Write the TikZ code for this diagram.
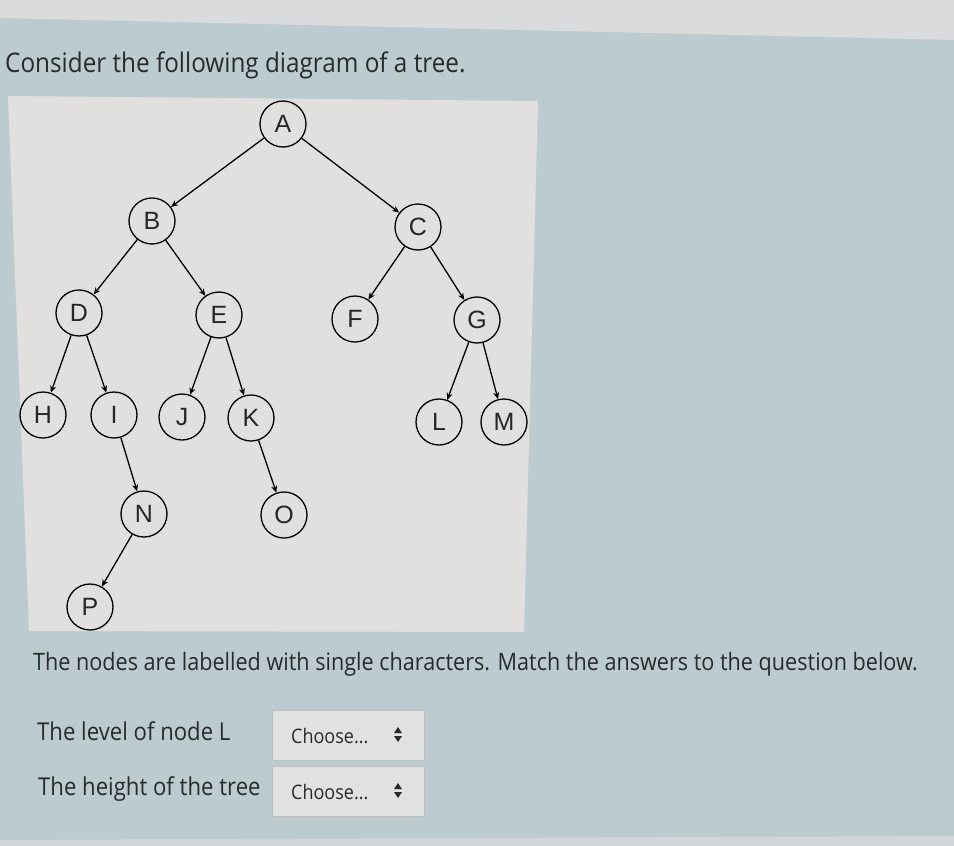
\documentclass[tikz,border=0pt]{standalone}
\usepackage{fontspec}
\setmainfont{Liberation Sans}
\newfontfamily\screenfont[FakeStretch=0.9]{Open Sans}
\usetikzlibrary{arrows.meta}
\definecolor{screenbg}{RGB}{188,203,207}
\definecolor{topband}{RGB}{218,219,220}
\definecolor{panelbg}{RGB}{226,223,223}
\definecolor{boxbg}{RGB}{224,225,225}
\definecolor{ink}{RGB}{40,42,44}
\tikzset{
	treenode/.style = {draw, circle, line width=1.3pt, minimum size=46pt, inner sep=0pt,
		font=\fontsize{25}{25}\selectfont, text=black!85},
	edge/.style = {line width=1.3pt, -{Stealth[length=7pt, width=6pt]}},
	qtext/.style = {anchor=base west, text=ink, inner sep=0pt},
	choosebox/.style = {draw=black!25, fill=boxbg, line width=1pt, minimum width=152pt,
		minimum height=50pt, inner sep=0pt}
}

\begin{document}
\begin{tikzpicture}[x=1pt, y=-1pt]
		\useasboundingbox (0,0) rectangle (954,846);
		\fill [screenbg] (0,0) rectangle (954,846);
		\fill [topband] (0,0) -- (954,0) -- (954,40) -- (0,18) -- cycle;
		\fill [topband!70!screenbg] (0,840) -- (954,836) -- (954,846) -- (0,846) -- cycle;
		
		\node [qtext, font=\screenfont\fontsize{27}{32}\selectfont] (title) at (5,72)
			{Consider the following diagram of a tree.};
		
		% the picture of the tree
		\fill [panelbg] (8,96) -- (538,101) -- (524,632) -- (29,631) -- cycle;
		
		\node [treenode] (A) at (283,124) {A};
		\node [treenode] (B) at (152,221) {B};
		\node [treenode] (C) at (418,227) {C};
		\node [treenode] (D) at (79,313) {D};
		\node [treenode] (E) at (219,315) {E};
		\node [treenode] (F) at (355,319) {F};
		\node [treenode] (G) at (477,320) {G};
		\node [treenode] (H) at (43,415) {H};
		\node [treenode] (I) at (114,415) {I};
		\node [treenode] (J) at (182,417) {J};
		\node [treenode] (K) at (251,418) {K};
		\node [treenode] (L) at (439,422) {L};
		\node [treenode] (M) at (504,422) {M};
		\node [treenode] (N) at (144,514) {N};
		\node [treenode] (O) at (284,515) {O};
		\node [treenode] (P) at (90,607) {P};
		
		\foreach \p/\c in {A/B, A/C, B/D, B/E, C/F, C/G, D/H, D/I, E/J, E/K,
				G/L, G/M, I/N, K/O, N/P}
			\draw [edge] (\p) -- (\c);
		
		% question and answers
		\node [qtext, font=\screenfont\fontsize{24}{28}\selectfont] (note) at (33,670)
			{The nodes are labelled with single characters. Match the answers to the question below.};
		
		\node [qtext, font=\screenfont\fontsize{24.6}{28}\selectfont] (q1) at (37,740) {The level of node L};
		\node [qtext, font=\screenfont\fontsize{24.6}{28}\selectfont] (q2) at (38,795) {The height of the tree};
		
		\foreach \n/\y in {1/735, 2/791} {
			\node [choosebox] (box\n) at (348,\y) {};
			\node [qtext, font=\screenfont\fontsize{20}{24}\selectfont] (ch\n) at (291,\y+8) {Choose...};
			\fill [ink] (394,\y-2) -- (402,\y-2) -- (398,\y-8) -- cycle;
			\fill [ink] (394,\y+1) -- (402,\y+1) -- (398,\y+7) -- cycle;
		}
	\end{tikzpicture}
\end{document}
